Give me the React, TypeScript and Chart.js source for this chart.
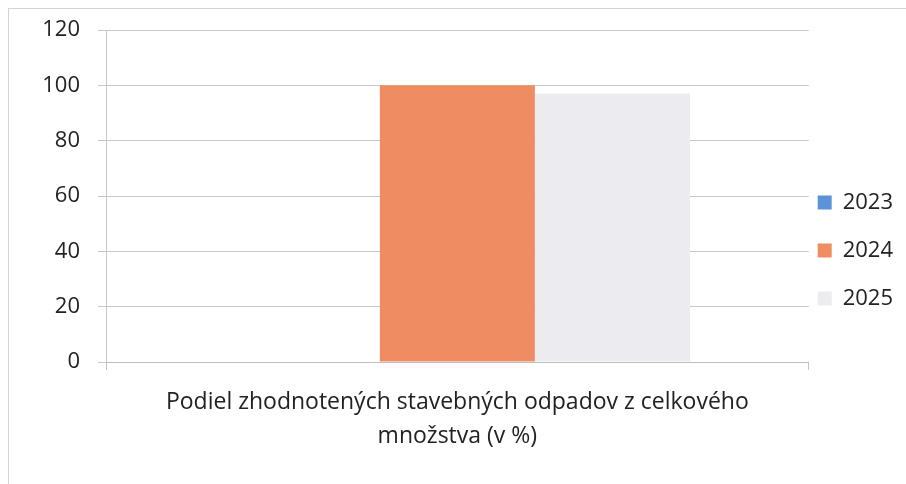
import React, { useEffect, useRef } from "react";
import { Chart, registerables } from "chart.js";

Chart.register(...registerables);

const categories: string[][] = [["Podiel zhodnotených stavebných odpadov z celkového", "množstva (v %)"]];
const seriesNames = ["2023", "2024", "2025"];
const values2023 = [0];
const values2024 = [100];
const values2025 = [97];
const yTicks = { min: 0, max: 120, step: 20 };

const FONT = "'Open Sans', sans-serif";

export default function App() {
  const ref = useRef<HTMLCanvasElement | null>(null);
  useEffect(() => {
    if (!ref.current) return;
    const chart = new Chart(ref.current, {
      type: "bar",
      data: {
        labels: categories,
        datasets: [
          { label: seriesNames[0], data: values2023, backgroundColor: "#5b93d8" },
          { label: seriesNames[1], data: values2024, backgroundColor: "#f08c62" },
          { label: seriesNames[2], data: values2025, backgroundColor: "#ebebf0" },
        ],
      },
      options: {
        responsive: false,
        animation: false,
        layout: { padding: { top: 21, right: 3, bottom: -4, left: 0 } },
        categoryPercentage: 0.662,
        barPercentage: 1,
        plugins: {
          tooltip: { enabled: false },
          legend: {
            position: "right",
            align: "center",
            labels: {
              color: "#222",
              font: { family: FONT, size: 22, lineHeight: 39 / 22 },
              boxWidth: 14,
              boxHeight: 14,
              padding: 9,
              generateLabels: (c: any) =>
                (Chart.defaults.plugins.legend.labels.generateLabels as any)(c).map((l: any) => ({
                  ...l,
                  text: [l.text],
                  lineWidth: 0,
                })),
            },
          },
        },
        scales: {
          x: {
            grid: { display: true, drawOnChartArea: false, tickLength: 8, color: "#c4c4c4" },
            border: { display: true, color: "#bdbdbd" },
            ticks: {
              color: "#222",
              font: { family: FONT, size: 23, lineHeight: 1.5 },
              padding: 15,
              maxRotation: 0,
              autoSkip: false,
            },
            afterFit: (s: any) => {
              s.height = 126;
            },
          },
          y: {
            min: yTicks.min,
            max: yTicks.max,
            ticks: { stepSize: yTicks.step, color: "#222", font: { family: FONT, size: 22 }, padding: 18 },
            grid: { color: "#c8c8c8", tickLength: 8 },
            border: { display: true, color: "#c8c8c8" },
            afterFit: (s: any) => {
              s.width = 97;
              s.paddingTop = 0;
              s.paddingBottom = 0;
            },
          },
        },
      },
    });
    return () => chart.destroy();
  }, []);
  return (
    <div
      style={{
        position: "fixed",
        left: 8,
        top: 8,
        width: 898,
        height: 476,
        overflow: "hidden",
        borderTop: "1px solid #d4d4d4",
        borderLeft: "1px solid #d4d4d4",
        background: "#fff",
      }}
    >
      <canvas ref={ref} width={897} height={475} style={{ display: "block" }} />
    </div>
  );
}
